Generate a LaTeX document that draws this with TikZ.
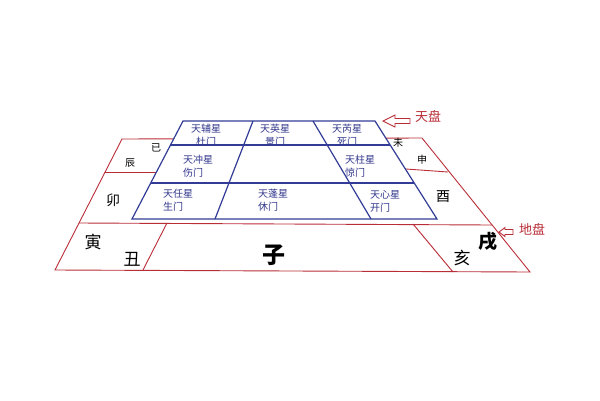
\documentclass[tikz,border=0pt]{standalone}
\usepackage{fontspec}
\newfontfamily\cjk{Noto Sans CJK SC}
\definecolor{plred}{RGB}{185,45,55}
\definecolor{plblue}{RGB}{50,60,150}
\definecolor{startxt}{RGB}{50,55,140}
\tikzset{
  redln/.style={draw=plred, line width=0.9pt},
  blueln/.style={draw=plblue, line width=1.2pt},
  starc/.style={text=startxt, font=\cjk\fontsize{10}{13}\selectfont, align=center, inner sep=0pt},
  starl/.style={text=startxt, font=\cjk\fontsize{10}{13}\selectfont, align=left, inner sep=0pt, anchor=west},
  bigch/.style={font=\cjk\fontsize{17}{17}\selectfont, inner sep=0pt},
  hugech/.style={font=\cjk\bfseries\fontsize{23}{23}\selectfont, inner sep=0pt},
  midch/.style={font=\cjk\fontsize{14}{14}\selectfont, inner sep=0pt},
  smallch/.style={font=\cjk\fontsize{10}{10}\selectfont, inner sep=0pt},
  platelbl/.style={text=plred, font=\cjk\fontsize{13}{13}\selectfont, inner sep=0pt},
  hollowarrow/.style={draw=plred, line width=0.9pt, fill=white, line join=miter}
}
\begin{document}
\begin{tikzpicture}[x=1pt,y=-1pt]
\useasboundingbox (0,0) rectangle (600,400);
% earth plate corners
\coordinate (RTL) at (122,139);
\coordinate (RTR) at (422,138);
\coordinate (RBL) at (55,270);
\coordinate (RBR) at (530,272);
\coordinate (RML) at (79,223);
\coordinate (RMR) at (492,225);
\coordinate (R4L) at (105,172);
\coordinate (R4Li) at (165,172);
\coordinate (R8R) at (448,172);
\coordinate (R8Ri) at (392,168);
\coordinate (S1t) at (167,223);
\coordinate (S1b) at (143,270);
\coordinate (S2t) at (413,224);
\coordinate (S2b) at (453,272);
\draw[redln] (RTL) -- (RTR) -- (RBR) -- (RBL) -- cycle;
\draw[redln] (RML) -- (RMR);
\draw[redln] (R4L) -- (R4Li);
\draw[redln] (R8Ri) -- (R8R);
\draw[redln] (S1t) -- (S1b);
\draw[redln] (S2t) -- (S2b);
% heaven plate
\coordinate (BTL) at (183,121);
\coordinate (BTR) at (375,121);
\coordinate (BBL) at (132,219);
\coordinate (BBR) at (437,219);
\coordinate (H1L) at (170,145);
\coordinate (H1R) at (390,145);
\coordinate (H2L) at (151,183);
\coordinate (H2R) at (414,183);
\coordinate (V1t) at (253,121);
\coordinate (V1b) at (215,219);
\coordinate (V2t) at (313,121);
\coordinate (V2b) at (371,219);
\draw[blueln, fill=white] (BTL) -- (BTR) -- (BBR) -- (BBL) -- cycle;
\draw[blueln] (H1L) -- (H1R);
\draw[blueln] (H2L) -- (H2R);
\draw[blueln] (V1t) -- (V1b);
\draw[blueln] (V2t) -- (V2b);
% stars and doors
\node[starc] (fu) at (206,135.5) {天辅星\\杜门};
\node[starc] (ying) at (275,135.5) {天英星\\景门};
\node[starc] (rui) at (347,135.5) {天芮星\\死门};
\node[starl] (chong) at (183,166) {天冲星\\伤门};
\node[starl] (zhu) at (345,166.5) {天柱星\\惊门};
\node[starl] (ren) at (163,200) {天任星\\生门};
\node[starl] (peng) at (258,200) {天蓬星\\休门};
\node[starl] (xin) at (370,201.5) {天心星\\开门};
% branches
\node[smallch] (si) at (156,148) {已};
\node[smallch] (chen) at (130,163) {辰};
\node[midch] (mao) at (113,200) {卯};
\node[bigch] (yin) at (93,242) {寅};
\node[bigch] (chou) at (132,259) {丑};
\node[hugech] (zi) at (274,255) {子};
\node[bigch] (hai) at (462,258) {亥};
\node[bigch, font=\cjk\bfseries\fontsize{19}{19}\selectfont] (xu) at (488,242) {戌};
\node[midch] (you) at (443,197) {酉};
\node[smallch] (shen) at (422,160) {申};
\node[smallch] (wei) at (398,143) {未};
% plate labels with hollow arrows
\node[platelbl] (tianpan) at (428,116) {天盘};
\node[platelbl] (dipan) at (532,229) {地盘};
\coordinate (A1) at (383,121);
\draw[hollowarrow] (A1) -- (395,115) -- (395,118.5) -- (410,118.5) -- (410,123.5) -- (395,123.5) -- (395,127) -- cycle;
\coordinate (A2) at (499,232);
\draw[hollowarrow] (A2) -- (505,227.5) -- (505,229.5) -- (513,229.5) -- (513,234.5) -- (505,234.5) -- (505,236.5) -- cycle;
\end{tikzpicture}
\end{document}
